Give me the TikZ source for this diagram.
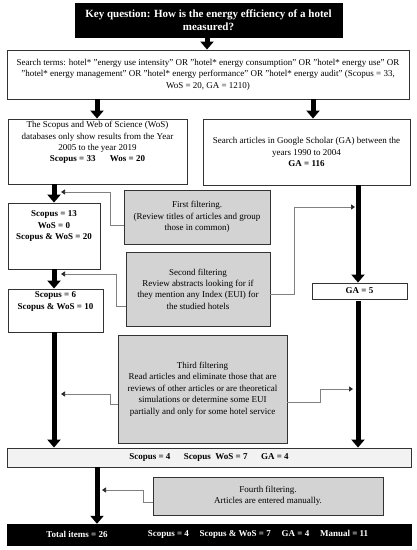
\documentclass[tikz,border=0pt]{standalone}
\usepackage{fontspec}
\setmainfont{Liberation Serif}
\usetikzlibrary{arrows.meta,calc}
\definecolor{boxline}{HTML}{333333}
\definecolor{filtfill}{HTML}{D3D3D3}
\definecolor{sumfill}{HTML}{F2F2F2}
\definecolor{connline}{HTML}{808080}
\tikzset{
  x=1pt, y=-1pt,
  txt/.style={font=\fontsize{9}{11.4}\selectfont, align=center, inner sep=0pt},
  plainbox/.style={draw=boxline, line width=0.9pt, fill=white, inner sep=0pt,
    font=\fontsize{9}{11.4}\selectfont, align=center},
  filtbox/.style={plainbox, fill=filtfill},
  blackbox/.style={draw=black, fill=black, text=white, inner sep=0pt, align=center},
  bigarrow/.style={line width=5pt, black, -{Triangle[width=13pt,length=8pt]}},
  conn/.style={draw=connline, line width=0.7pt, -{Triangle[width=5pt,length=4pt,color=black!85]}},
}
\begin{document}
\begin{tikzpicture}
\useasboundingbox[fill=white] (0,0) rectangle (416,550);

% key question
\node[blackbox, minimum width=267pt, minimum height=34pt, font=\bfseries\fontsize{11}{13.2}\selectfont]
  (key) at (208.5,20) {Key question: How is the energy efficiency of a hotel\\measured?};

% search terms
\node[plainbox, minimum width=402pt, minimum height=49pt] (search) at (208,74.5)
  {Search terms: hotel* "energy use intensity" OR "hotel* energy consumption" OR "hotel* energy use" OR\\
   "hotel* energy management" OR "hotel* energy performance" OR "hotel* energy audit" (Scopus = 33,\\
   WoS = 20, GA = 1210)};

% left database box
\node[plainbox, minimum width=179pt, minimum height=65pt] (leftdb) at (97.5,151.5) {};
\node[txt] (leftdbtext) at (97.5,142.5)
  {The Scopus and Web of Science (WoS)\\databases only show results from the Year\\2005 to the year 2019\\
   \textbf{Scopus = 33\hspace{1.6em}Wos = 20}};

% right database box
\node[plainbox, minimum width=207pt, minimum height=66pt] (rightdb) at (306.5,152)
  {Search articles in Google Scholar (GA) between the\\years 1990 to 2004\\\textbf{GA = 116}};

% Scopus = 13 box
\node[plainbox, minimum width=92pt, minimum height=66pt] (s13) at (54,236) {};
\node[txt, font=\bfseries\fontsize{9}{11.4}\selectfont] (s13text) at (54,226)
  {Scopus = 13\\WoS = 0\\Scopus \& WoS = 20};

% Scopus = 6 box
\node[plainbox, minimum width=95pt, minimum height=43pt] (s6) at (55.5,310.5) {};
\node[txt, font=\bfseries\fontsize{9}{11.4}\selectfont] (s6text) at (55.5,301.5)
  {Scopus = 6\\Scopus \& WoS = 10};

% GA = 5 box
\node[plainbox, minimum width=95pt, minimum height=16pt, font=\bfseries\fontsize{9}{11.4}\selectfont]
  (ga5) at (359.5,291) {GA = 5};

% filtering boxes
\node[filtbox, minimum width=146pt, minimum height=54pt] (first) at (197,217)
  {First filtering.\\(Review titles of articles and group\\those in common)};
\node[filtbox, minimum width=144pt, minimum height=74pt] (second) at (198,289)
  {Second filtering\\Review abstracts looking for if\\they mention any Index (EUI) for\\the studied hotels};
\node[filtbox, minimum width=169pt, minimum height=108pt] (third) at (202.5,389)
  {Third filtering\\Read articles and eliminate those that are\\reviews of other articles or are theoretical\\
   simulations or determine some EUI\\partially and only for some hotel service};
\node[filtbox, minimum width=230pt, minimum height=38pt] (fourth) at (268,496)
  {Fourth filtering.\\Articles are entered manually.};

% summary box
\node[plainbox, fill=sumfill, minimum width=404pt, minimum height=19pt,
  font=\bfseries\fontsize{9}{11.4}\selectfont] (summary) at (209,457.5)
  {Scopus = 4\hspace{1.5em}Scopus\hspace{0.5em}WoS = 7\hspace{1.5em}GA = 4};

% total bar
\node[blackbox, minimum width=404pt, minimum height=21pt] (total) at (209,534.5) {};
\node[txt, text=white, font=\bfseries\fontsize{9}{11.4}\selectfont] (totaltext) at (77,534.5) {Total items = 26};
\node[txt, text=white, font=\bfseries\fontsize{9}{11.4}\selectfont] (totalcounts) at (258,534.5)
  {Scopus = 4\hspace{1.2em}Scopus \& WoS = 7\hspace{1.2em}GA = 4\hspace{1.2em}Manual = 11};

% big arrows
\draw[bigarrow] (key.south -| 207,0) -- (search.north -| 207,0);
\draw[bigarrow] (search.south -| 97,0) -- (leftdb.north -| 97,0);
\draw[bigarrow] (search.south -| 313,0) -- (rightdb.north -| 313,0);
\draw[bigarrow] (leftdb.south -| 54,0) -- (s13.north -| 54,0);
\draw[bigarrow] (s13.south -| 54,0) -- (s6.north -| 54,0);
\draw[bigarrow] (s6.south -| 54,0) -- (summary.north -| 54,0);
\draw[bigarrow] (rightdb.south -| 358,0) -- (ga5.north -| 358,0);
\draw[bigarrow] ([yshift=-2pt]ga5.south -| 358,0) -- (summary.north -| 358,0);
\draw[bigarrow] (summary.south -| 97,0) -- (total.north -| 97,0);

% connector targets
\coordinate (t1) at (61,192);
\coordinate (t2) at (61,274);
\coordinate (t3) at (355,207);
\coordinate (t4) at (61,394);
\coordinate (t5) at (353,389);
\coordinate (t6) at (102,490);

\draw[conn] ($(first.west)+(0,8)$) -- (110,225) |- (t1);
\draw[conn] ($(second.west)+(0,17)$) -- (116,306) |- (t2);
\draw[conn] ($(second.east)+(0,5)$) -- (294,294) |- (t3);
\draw[conn] ($(third.west)+(0,15)$) -- (110,404) |- (t4);
\draw[conn] ($(third.east)+(0,13)$) -- (320,402) |- (t5);
\draw[conn] ($(fourth.west)+(0,6)$) -- (143,502) |- (t6);
\end{tikzpicture}
\end{document}
